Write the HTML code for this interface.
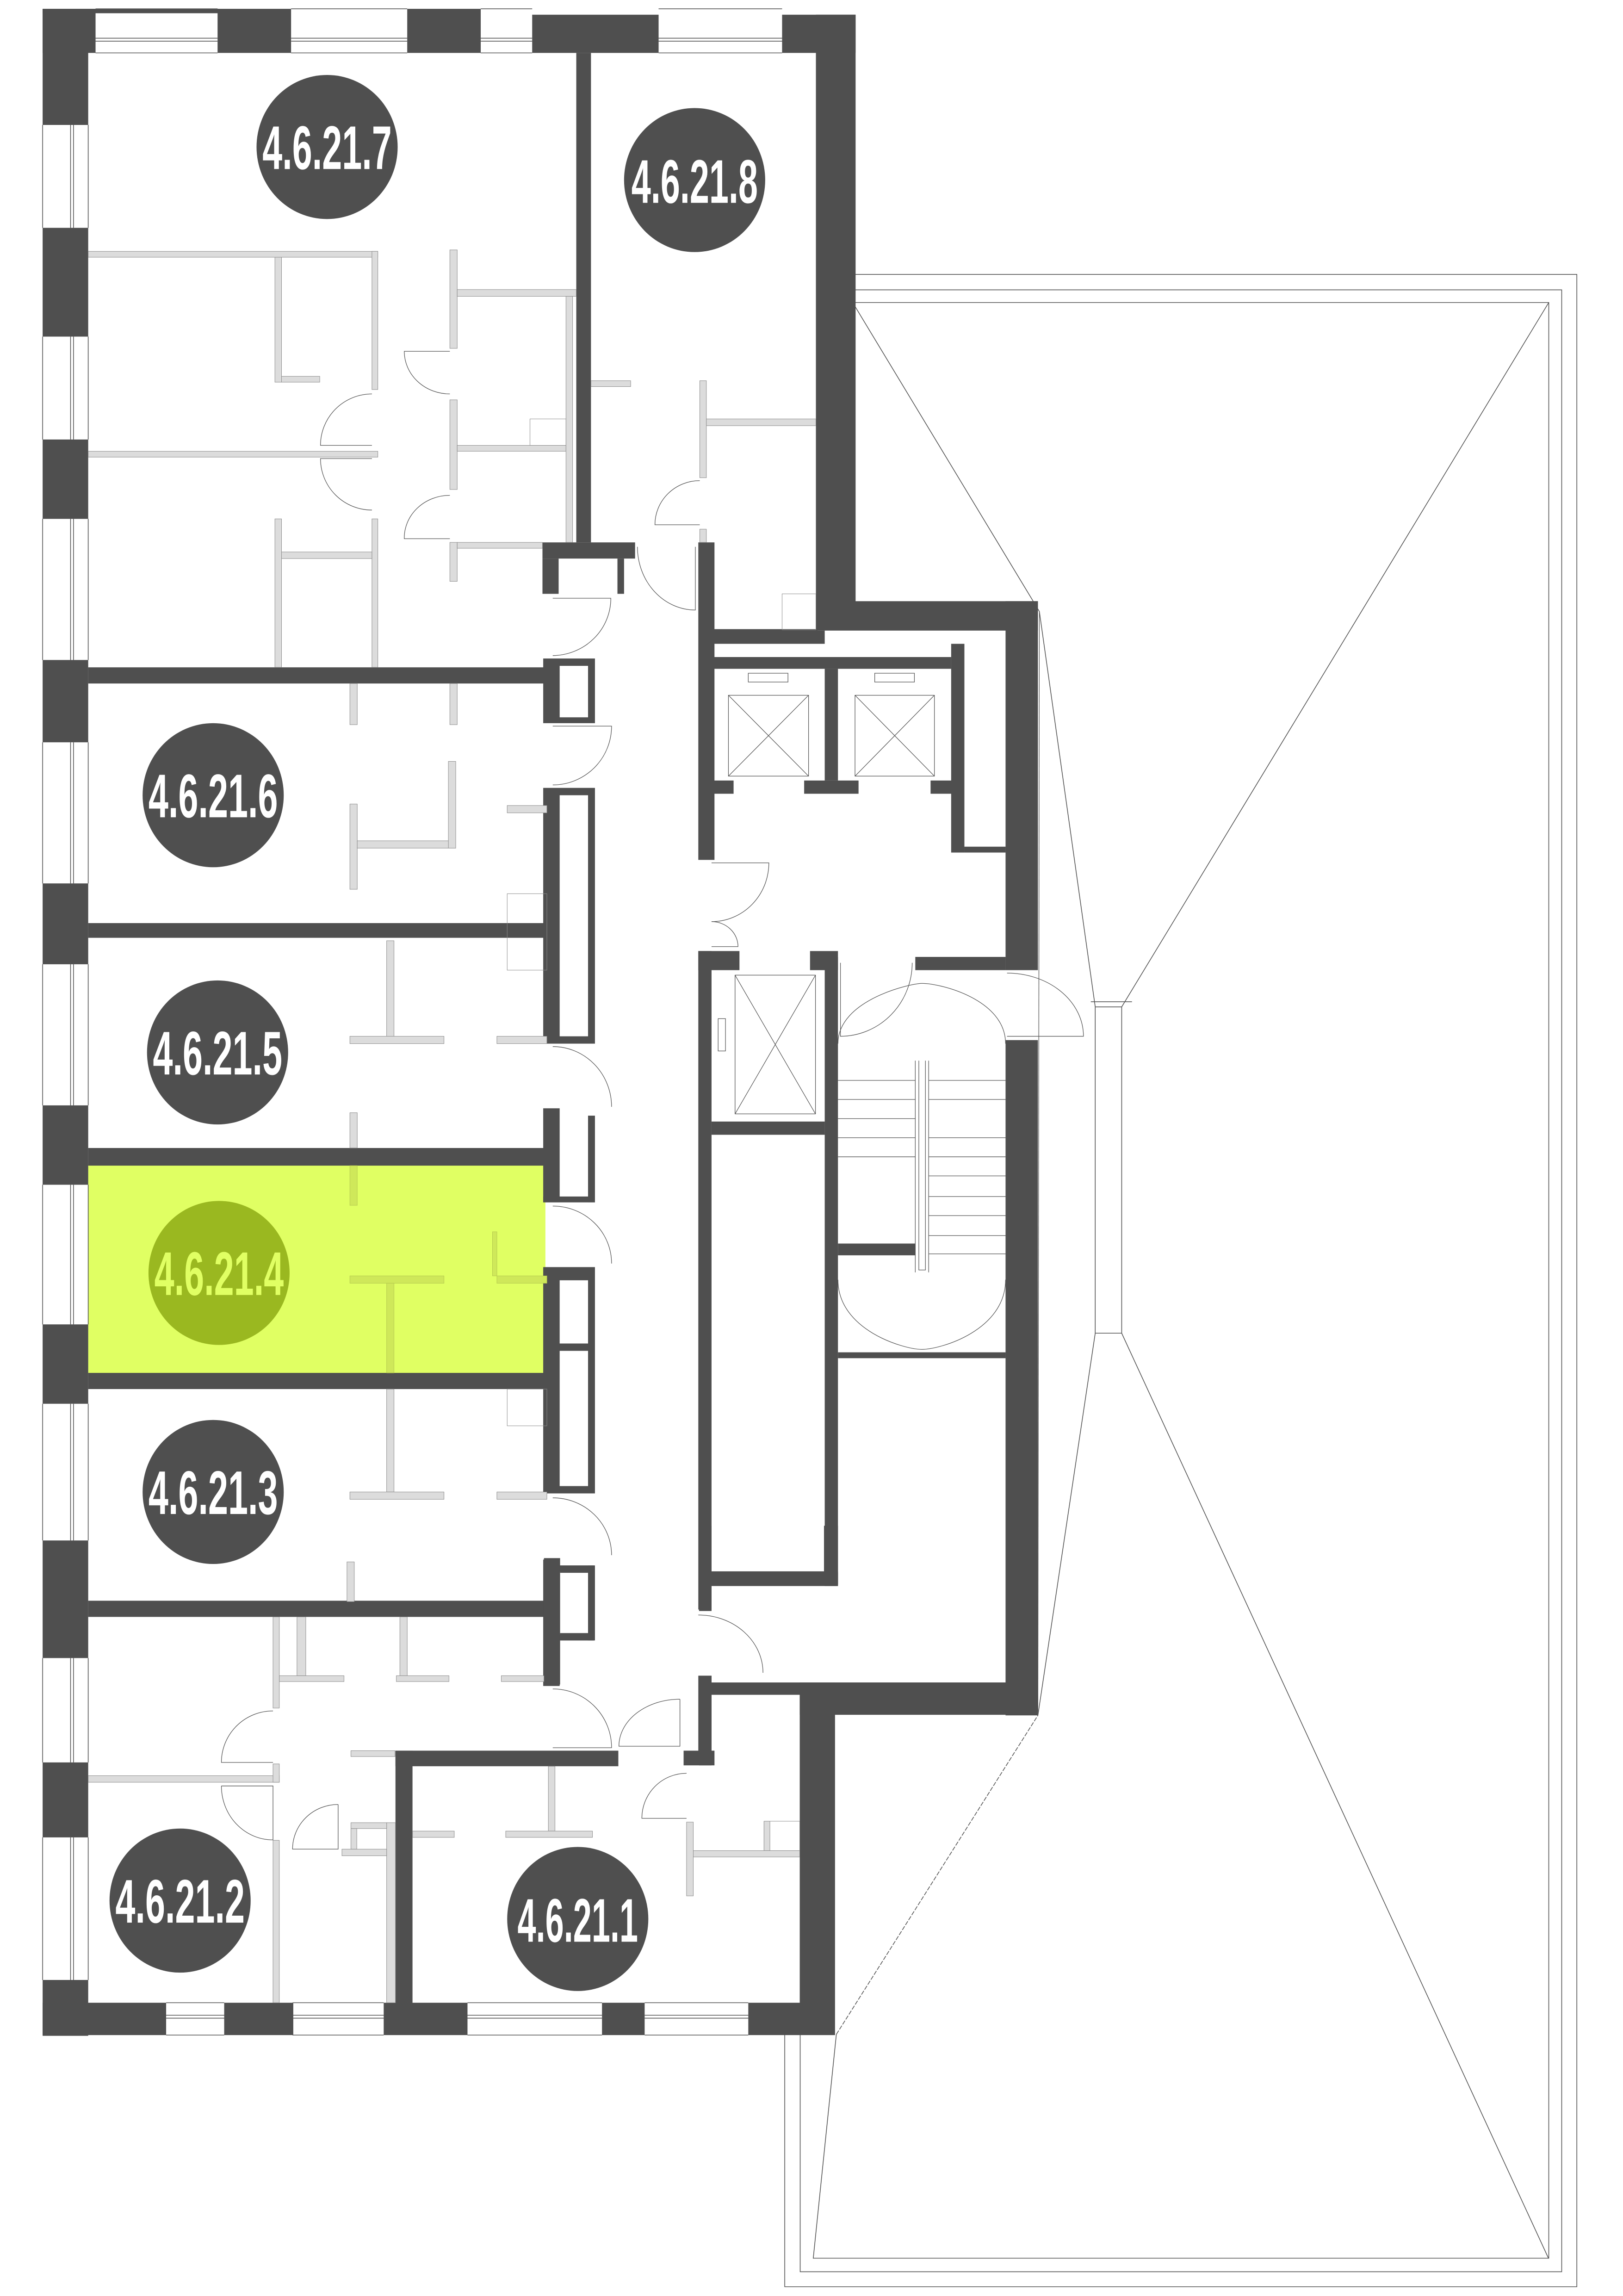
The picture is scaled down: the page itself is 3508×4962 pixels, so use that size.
<!DOCTYPE html>
<html><head><meta charset="utf-8"><style>html,body{margin:0;padding:0;background:#fff}svg{display:block}</style></head><body>
<svg width="3508" height="4962" viewBox="0 0 1104 1562" preserveAspectRatio="none" xmlns="http://www.w3.org/2000/svg">
<rect width="1104" height="1562" fill="#fff"/>
<!-- terrace -->
<g fill="none" stroke="#555" stroke-width="0.5">
<path d="M566.6 186.7 H1072.6 V1555.7 H533.8 V1384"/>
<path d="M566.6 197.2 H1062.3 V1545.5 H544.3 V1384"/>
<path d="M580 205.8 H1053.5 V1536.3 H553.2 L568.9 1384"/>
<path d="M580 205.8 L707 416 L745 685 H763 L1053.5 205.8"/>
<path d="M745 685 V907 H763 V685 M742 681.5 H770"/>
<path d="M745 907 L706 1167 M763 907 L1053.3 1536.3"/>
<path d="M568.9 1384 L706 1167" stroke-dasharray="3 1"/>
</g>
<!-- highlight -->
<rect x="60" y="792" width="311" height="143" fill="#e0ff63"/>
<g fill="#4f4f4f">
<!-- top wall -->
<rect x="29" y="6" width="36" height="30"/><rect x="148" y="6" width="50" height="30"/><rect x="277" y="6" width="50" height="30"/><rect x="362" y="10" width="86" height="26"/><rect x="532" y="10" width="50" height="26"/>
<rect x="29" y="6" width="120" height="3"/>
<!-- left wall piers -->
<rect x="29" y="6" width="31" height="79"/><rect x="29" y="155" width="31" height="74"/><rect x="29" y="299" width="31" height="54"/><rect x="29" y="449" width="31" height="56"/><rect x="29" y="601" width="31" height="55"/><rect x="29" y="752" width="31" height="54"/><rect x="29" y="901" width="31" height="54"/><rect x="29" y="1048" width="31" height="80"/><rect x="29" y="1199" width="31" height="51"/><rect x="29" y="1347" width="31" height="38"/>
<!-- bottom wall -->
<rect x="29" y="1362.5" width="84" height="22"/><rect x="152.5" y="1362.5" width="47" height="22"/><rect x="261" y="1362.5" width="57" height="22"/><rect x="409.5" y="1362.5" width="29" height="22"/><rect x="509" y="1362.5" width="59" height="22"/>
<!-- right wall upper -->
<rect x="555" y="10" width="27" height="418"/>
<rect x="484" y="428" width="72" height="9"/>
<!-- 7/8 divider -->
<rect x="392" y="36" width="10" height="333"/>
<rect x="369" y="369" width="63" height="11"/><rect x="369" y="380" width="11" height="24"/><rect x="420" y="380" width="4.5" height="24"/>
<rect x="475" y="369" width="11" height="216"/>
<!-- apartment dividers -->
<rect x="60" y="454" width="310" height="11"/>
<rect x="60" y="628" width="310" height="10"/>
<rect x="60" y="781" width="310" height="12"/>
<rect x="60" y="934" width="310" height="11"/>
<rect x="60" y="1089" width="310" height="11"/>
<!-- corridor boxes -->
<path d="M369.5 448 H404.7 V492 H369.5Z M380.7 453 V488 H400 V453Z" fill-rule="evenodd"/>
<path d="M369.5 536 H404.7 V710 H369.5Z M380.7 541 V705 H400 V541Z" fill-rule="evenodd"/>
<rect x="369.5" y="754" width="11.2" height="64"/><rect x="400" y="759" width="4.7" height="59"/><rect x="369.5" y="814" width="35" height="4"/>
<path d="M369.5 862 H404.7 V1016 H369.5Z M380.7 871 V914 H400 V871Z M380.7 919 V1011 H400 V919Z" fill-rule="evenodd"/>
<rect x="369.5" y="1061" width="11.2" height="86"/>
<path d="M380.7 1065 H404.7 V1116 H380.7Z M380.7 1069 V1112 H400 V1069Z" fill-rule="evenodd"/>
<!-- core -->
<rect x="475" y="647" width="9" height="448"/>
<rect x="475" y="1140" width="9" height="60"/>
<rect x="465" y="1191" width="21" height="10"/>
<rect x="555" y="409" width="151" height="20"/>
<rect x="484" y="429" width="77" height="9"/>
<rect x="647" y="438" width="9" height="142"/>
<rect x="484" y="447" width="163" height="8"/>
<rect x="561" y="455" width="9" height="76"/>
<rect x="484" y="531" width="15" height="9"/><rect x="547" y="531" width="37" height="9"/><rect x="633" y="531" width="18" height="9"/>
<rect x="656" y="576" width="28" height="4"/>
<rect x="684" y="409" width="22" height="251"/>
<rect x="475" y="647" width="28" height="13"/><rect x="551" y="647" width="19" height="13"/>
<rect x="622.6" y="651" width="61.4" height="9"/>
<rect x="561" y="651" width="9" height="428"/>
<rect x="484" y="763" width="77" height="9"/>
<rect x="484" y="1069" width="86" height="10"/>
<rect x="570" y="846" width="52.6" height="8"/>
<rect x="570" y="920" width="114" height="4"/>
<rect x="684" y="707.6" width="22" height="459.4"/>
<rect x="484" y="1144.6" width="222" height="8.4"/>
<rect x="544" y="1144.6" width="162" height="22"/>
<rect x="544" y="1144.6" width="24" height="218"/>
<rect x="475.5" y="1038" width="8.5" height="58"/>
<rect x="484" y="1070" width="86" height="8"/>
<rect x="560.5" y="1038" width="9.5" height="40"/>
<rect x="475.5" y="1140" width="8.5" height="61"/>
<rect x="269" y="1191" width="151.6" height="10.6"/>
<rect x="269" y="1191" width="11.6" height="172"/>
<rect x="370" y="1060" width="11" height="86"/>
<rect x="381" y="1065" width="23" height="5"/><rect x="400" y="1065" width="4" height="51"/><rect x="381" y="1111" width="23" height="5"/>
</g>
<!-- windows lines -->
<g fill="none" stroke="#555" stroke-width="0.5">
<path d="M65 6 H148 M198 6 H277 M327 6 H362 M448 6 H532 M65 26 H148 M65 28 H148 M198 26 H277 M198 28 H277 M327 26 H362 M327 28 H362 M448 26 H532 M448 28 H532 M65 36 H148 M198 36 H277 M327 36 H362 M448 36 H532"/>
<path d="M29 85 V155 M29 229 V299 M29 353 V449 M29 505 V601 M29 656 V752 M29 806 V901 M29 955 V1048 M29 1128 V1199 M29 1250 V1347"/>
<path d="M48 85 V155 M50 85 V155 M48 229 V299 M50 229 V299 M48 353 V449 M50 353 V449 M48 505 V601 M50 505 V601 M48 656 V752 M50 656 V752 M48 806 V901 M50 806 V901 M48 955 V1048 M50 955 V1048 M48 1128 V1199 M50 1128 V1199 M48 1250 V1347 M50 1250 V1347 M60 85 V155 M60 229 V299 M60 353 V449 M60 505 V601 M60 656 V752 M60 806 V901 M60 955 V1048 M60 1128 V1199 M60 1250 V1347"/>
<path d="M113 1362.5 H152.5 M199 1362.5 H261 M318 1362.5 H409.5 M438.5 1362.5 H509 M113 1371 H152.5 M113 1373 H152.5 M199 1371 H261 M199 1373 H261 M318 1371 H409.5 M318 1373 H409.5 M438.5 1371 H509 M438.5 1373 H509 M113 1384.5 H152.5 M199 1384.5 H261 M318 1384.5 H409.5 M438.5 1384.5 H509"/>
</g>
<!-- partitions -->
<g fill="#dcdcdc" stroke="#8a8a8a" stroke-width="0.3">
<rect x="60" y="171" width="197" height="4"/><rect x="187" y="175" width="4.5" height="85"/><rect x="191.5" y="256" width="26" height="4"/><rect x="253" y="171" width="4" height="94"/>
<rect x="60" y="307" width="197" height="4"/><rect x="253" y="353" width="4" height="101"/><rect x="187" y="353" width="4.5" height="101"/><rect x="191.5" y="375.5" width="61.5" height="4.5"/>
<rect x="306" y="170" width="5" height="67"/><rect x="311" y="197" width="81" height="4.6"/><rect x="306" y="272" width="5" height="61"/><rect x="311" y="303" width="74" height="4"/><rect x="360.5" y="285" width="24.5" height="18" fill="none"/><rect x="385" y="201.6" width="4.5" height="167.4"/><rect x="306" y="369" width="5" height="26.5"/><rect x="311" y="369" width="58" height="4"/>
<rect x="402" y="259" width="27" height="4"/><rect x="476" y="259" width="4.5" height="66"/><rect x="480.5" y="285" width="74.5" height="4.6"/><rect x="476" y="360" width="4.5" height="9"/><rect x="532" y="404" width="23" height="24.5" fill="none"/>
<rect x="238" y="547" width="5" height="58"/><rect x="243" y="572" width="67" height="5"/><rect x="305" y="518" width="5" height="59"/><rect x="345" y="608" width="27" height="52" fill="none"/><rect x="238" y="465" width="5" height="28"/><rect x="306" y="465" width="5" height="28"/><rect x="345" y="548" width="27" height="5"/>
<rect x="263" y="640" width="5" height="68"/><rect x="238" y="705" width="64" height="5"/><rect x="338" y="705" width="34" height="5"/><rect x="238" y="757" width="5" height="24"/>
<rect x="238" y="793" width="5" height="27" fill="#cfe85a" stroke="#b5c94f"/><rect x="238" y="868" width="64" height="5" fill="#cfe85a" stroke="#b5c94f"/><rect x="338" y="868" width="34" height="5" fill="#cfe85a" stroke="#b5c94f"/><rect x="263" y="873" width="5" height="61" fill="#cfe85a" stroke="#b5c94f"/><rect x="335" y="838" width="3" height="30" fill="#cfe85a" stroke="#b5c94f"/>
<rect x="263" y="945" width="5" height="70"/><rect x="238" y="1015" width="64" height="5"/><rect x="338" y="1015" width="34" height="5"/><rect x="345" y="945" width="27" height="25" fill="none"/><rect x="236" y="1062.6" width="5" height="27"/>
<rect x="60" y="1208" width="130" height="4.5"/><rect x="185.7" y="1100" width="4.3" height="62"/><rect x="185.7" y="1200" width="4.3" height="12.5"/><rect x="190" y="1140" width="44" height="4"/><rect x="202" y="1100" width="6" height="40"/><rect x="272" y="1100" width="5" height="40"/><rect x="269.6" y="1140" width="35.8" height="4"/><rect x="341" y="1140" width="29" height="4"/><rect x="238.7" y="1191" width="30" height="4"/>
<rect x="185.7" y="1252" width="4.3" height="110.5"/><rect x="263" y="1240" width="6" height="122.5"/><rect x="232.6" y="1258" width="30.4" height="4.5"/><rect x="238.7" y="1240" width="24.3" height="4"/><rect x="238.7" y="1244" width="4" height="14"/>
<rect x="373" y="1201.6" width="4.5" height="44.1"/><rect x="344" y="1245.7" width="59" height="4.3"/><rect x="280.6" y="1245.7" width="28.4" height="4.3"/>
<rect x="467" y="1239.6" width="4.6" height="50.2"/><rect x="471.6" y="1259" width="72.4" height="4.3"/><rect x="519.7" y="1239" width="24.3" height="20" fill="none"/><rect x="519.7" y="1239" width="4" height="20"/>
<rect x="273" y="371" width="12" height="0" />
</g>
<!-- doors -->
<g fill="none" stroke="#555" stroke-width="0.4">
<path d="M253 268 A35 35 0 0 0 218 303 H253"/>
<path d="M253 312 H218 A35 35 0 0 0 253 347"/>
<path d="M306 239 H275 A31 29 0 0 0 306 268"/>
<path d="M306 337 A31 29 0 0 0 275 366.5 H306"/>
<path d="M476 327 A30.5 30 0 0 0 445.5 357 H476"/>
<path d="M376 407 H415.5 A40 39 0 0 1 376 446"/>
<path d="M433.6 372 A39.4 43 0 0 0 473 415 V372"/>
<path d="M376 494 H416 A40 40 0 0 1 376 534"/>
<path d="M376 712 A40 41 0 0 1 416 753"/>
<path d="M376 820.5 A40 39 0 0 1 416 859.6"/>
<path d="M376 1019 A40 39 0 0 1 416 1058"/>
<path d="M376 1149 A40 40 0 0 1 416 1189 H376"/>
<path d="M484 587 H523 A39 40 0 0 1 484 627"/>
<path d="M484 627 A18 17 0 0 1 502 644 H484"/>
<path d="M475 1098.7 A44 39.3 0 0 1 519 1138"/>
<path d="M571.7 655 V705 A49 50 0 0 0 620.5 655"/>
<path d="M685 662 A52 43 0 0 1 737 705 H685"/>
<path d="M185.7 1164 A35 35 0 0 0 150.6 1199 H185.7"/>
<path d="M150.6 1215 H185.7 V1251.7 A35 36.7 0 0 1 150.6 1215"/>
<path d="M230 1227.6 V1258 H199 A31 30.4 0 0 1 230 1227.6"/>
<path d="M462.5 1156 V1188 H421 A41.5 32 0 0 1 462.5 1156"/>
<path d="M467 1206.4 A30.4 30.6 0 0 0 436.6 1237 H467"/>
<path d="M570 710 C570 680 620 669 627 669 C640 669 684 680 684 710"/>
<path d="M570 870.6 C570 905 615 918 627 918 C640 918 684 905 684 870.6"/>
<path d="M622.6 721.6 V865.6 M631.7 721.6 V865.6 M625 721.6 V864 H629.5 V721.6"/>
<path d="M570 735 H622.6 M570 748 H622.6 M570 774 H622.6 M631.7 735 H684 M631.7 748 H684 M631.7 774 H684 M631.7 787 H684 M631.7 800 H684 M631.7 814 H684 M631.7 827 H684 M631.7 840.6 H684 M631.7 853 H684 M570 761 H622.6 M570 787 H622.6"/>
<!-- lifts -->
<rect x="495.5" y="473" width="54.5" height="55"/><path d="M495.5 473 L550 528 M550 473 L495.5 528"/>
<rect x="581.6" y="473" width="54" height="55"/><path d="M581.6 473 L635.6 528 M635.6 473 L581.6 528"/>
<rect x="509" y="458" width="27" height="6"/><rect x="595" y="458" width="27" height="6"/>
<rect x="500" y="663.4" width="54.7" height="94.4"/><path d="M500 663.4 L554.7 757.8 M554.7 663.4 L500 757.8"/>
<rect x="488.5" y="693" width="5" height="22"/>
<path d="M706 1167 L707 416"/>
</g>
<!-- labels -->
<g font-family="'Liberation Sans Narrow','Liberation Sans',sans-serif" font-weight="bold" font-size="42" text-anchor="middle">
<ellipse cx="222.5" cy="100" rx="48" ry="49" fill="#4f4f4f"/><text x="222.5" y="115" fill="#fff" textLength="88" lengthAdjust="spacingAndGlyphs">4.6.21.7</text>
<ellipse cx="472.5" cy="122.5" rx="48" ry="49" fill="#4f4f4f"/><text x="472.5" y="138" fill="#fff" textLength="86" lengthAdjust="spacingAndGlyphs">4.6.21.8</text>
<ellipse cx="145" cy="541" rx="48" ry="49" fill="#4f4f4f"/><text x="145" y="556" fill="#fff" textLength="88" lengthAdjust="spacingAndGlyphs">4.6.21.6</text>
<ellipse cx="148" cy="716" rx="48" ry="49" fill="#4f4f4f"/><text x="148" y="731" fill="#fff" textLength="88" lengthAdjust="spacingAndGlyphs">4.6.21.5</text>
<ellipse cx="149" cy="866" rx="48" ry="49" fill="#9ab820"/><text x="149" y="881" fill="#e0ff63" textLength="88" lengthAdjust="spacingAndGlyphs">4.6.21.4</text>
<ellipse cx="145" cy="1015" rx="48" ry="49" fill="#4f4f4f"/><text x="145" y="1030" fill="#fff" textLength="88" lengthAdjust="spacingAndGlyphs">4.6.21.3</text>
<ellipse cx="122.5" cy="1293" rx="48" ry="49" fill="#4f4f4f"/><text x="122.5" y="1308" fill="#fff" textLength="88" lengthAdjust="spacingAndGlyphs">4.6.21.2</text>
<ellipse cx="393" cy="1305.5" rx="48" ry="49" fill="#4f4f4f"/><text x="393" y="1321" fill="#fff" textLength="82" lengthAdjust="spacingAndGlyphs">4.6.21.1</text>
</g>
</svg>
</body></html>
